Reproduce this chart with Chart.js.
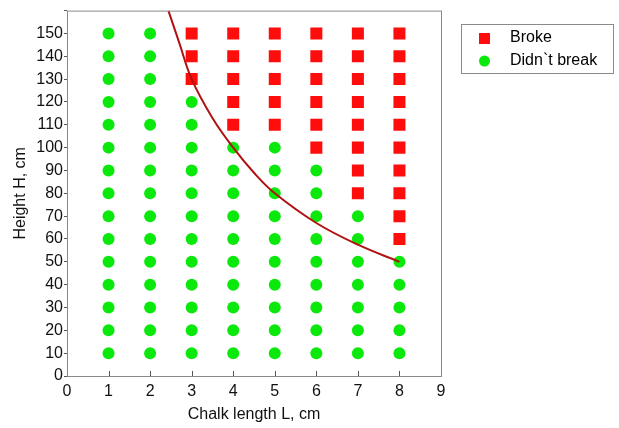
<!DOCTYPE html>
<html>
<head>
<meta charset="utf-8">
<script src="https://cdn.jsdelivr.net/npm/chart.js@4/dist/chart.umd.min.js"></script>
<style>
  html, body { margin: 0; padding: 0; background: #fff; }
  #wrap { width: 619px; height: 428px; }
</style>
</head>
<body>
<div id="wrap"><canvas id="chart"></canvas></div>
<script>
// ----- data -----
const lengths = [1, 2, 3, 4, 5, 6, 7, 8];                 // chalk length L, cm
const heights = [10, 20, 30, 40, 50, 60, 70, 80, 90, 100, 110, 120, 130, 140, 150]; // drop height H, cm
const firstBreakH = [null, null, 130, 110, 110, 100, 80, 60]; // lowest height that broke, per length
const curveL = [2.44, 2.7, 3, 3.5, 4, 4.5, 5, 6, 7, 8];
const curveH = [160, 146, 130, 113, 100, 89, 80, 67, 57.5, 50];
const xTicks = [0, 1, 2, 3, 4, 5, 6, 7, 8, 9];
const yMax = 160;

const FONT = "'Liberation Sans', Arial, sans-serif";
const RED = "#ff0d0d";
const GREEN = "#0be80b";
const LINE = "#b01212";

// build point tables
const broke = [];
const intact = [];
lengths.forEach((L, i) => {
  heights.forEach((H) => {
    const lim = firstBreakH[i];
    if (lim !== null && H >= lim) broke.push({ x: L, y: H });
    else intact.push({ x: L, y: H });
  });
});
const curve = curveL.map((L, i) => ({ x: L, y: curveH[i] }));

// frame, inner x ticks and the legend box
const framePlugin = {
  id: "frame",
  afterDraw(chart) {
    const { ctx, chartArea: a, scales } = chart;
    ctx.save();
    ctx.strokeStyle = "#8a8a8a";
    ctx.lineWidth = 1;
    ctx.strokeRect(a.left + 0.5, a.top + 0.5, a.right - a.left, a.bottom - a.top);
    ctx.strokeStyle = "#555";
    xTicks.slice(1, -1).forEach((v) => {
      const px = Math.round(scales.x.getPixelForValue(v)) + 0.5;
      ctx.beginPath();
      ctx.moveTo(px, a.bottom);
      ctx.lineTo(px, a.bottom - 5);
      ctx.stroke();
    });

    // legend
    ctx.strokeStyle = "#8a8a8a";
    ctx.strokeRect(461.5, 24.5, 152, 49);
    ctx.fillStyle = RED;
    ctx.fillRect(479, 33, 11, 11);
    ctx.fillStyle = GREEN;
    ctx.beginPath();
    ctx.arc(484.5, 61, 5.5, 0, Math.PI * 2);
    ctx.fill();
    ctx.fillStyle = "#000";
    ctx.font = "16px " + FONT;
    ctx.textBaseline = "middle";
    ctx.fillText("Broke", 510, 38);
    ctx.fillText("Didn`t break", 510, 61);
    ctx.restore();
  },
};

new Chart(document.getElementById("chart"), {
  type: "scatter",
  data: {
    datasets: [
      {
        label: "fit",
        data: curve,
        showLine: true,
        borderColor: LINE,
        borderWidth: 2,
        pointRadius: 0,
        tension: 0.4,
        order: 0,
      },
      {
        label: "Broke",
        data: broke,
        pointStyle: "rect",
        pointRadius: 8.5,
        backgroundColor: RED,
        borderWidth: 0,
        order: 1,
      },
      {
        label: "Didn`t break",
        data: intact,
        pointStyle: "circle",
        pointRadius: 6,
        backgroundColor: GREEN,
        borderWidth: 0,
        order: 1,
      },
    ],
  },
  options: {
    responsive: true,
    maintainAspectRatio: false,
    animation: false,
    layout: { padding: { left: 0, top: 10, right: 178, bottom: 0 } },
    plugins: { legend: { display: false }, tooltip: { enabled: false } },
    scales: {
      x: {
        type: "linear",
        min: 0,
        max: 9,
        afterFit: (s) => { s.height = 52; },
        afterBuildTicks: (s) => { s.ticks = xTicks.map((v) => ({ value: v })); },
        grid: { display: false, drawTicks: false },
        border: { display: false },
        ticks: { color: "#111", font: { family: FONT, size: 16 }, padding: 6, maxRotation: 0 },
        title: {
          display: true,
          text: "Chalk length L, cm",
          color: "#111",
          font: { family: FONT, size: 16 },
          padding: { top: 0, bottom: 4 },
        },
      },
      y: {
        type: "linear",
        min: 0,
        max: yMax,
        afterFit: (s) => { s.width = 67; },
        grid: { drawOnChartArea: false, drawTicks: true, tickLength: 3, color: "#555" },
        border: { display: false },
        ticks: {
          stepSize: 10,
          color: "#111",
          padding: 1,
          font: { family: FONT, size: 16 },
          callback: (v) => (v === yMax ? "" : v),
        },
        title: {
          display: true,
          text: "Height H, cm",
          color: "#111",
          font: { family: FONT, size: 16 },
          padding: { top: 11, bottom: 0 },
        },
      },
    },
  },
  plugins: [framePlugin],
});
</script>
</body>
</html>
